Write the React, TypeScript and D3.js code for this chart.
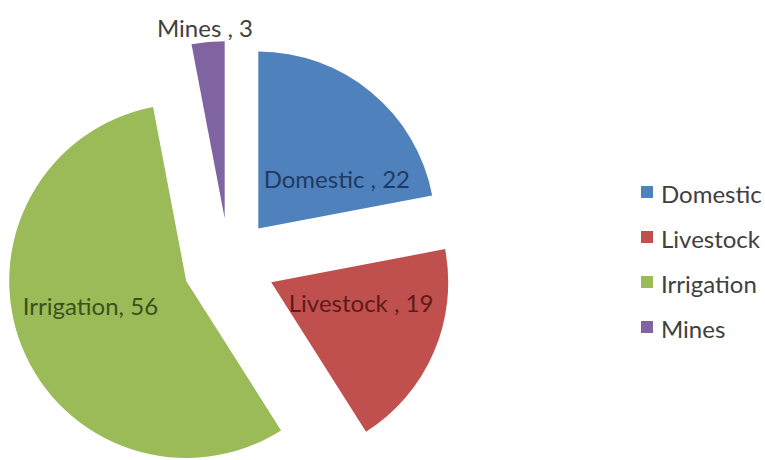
import React, { useEffect, useRef } from "react";
import * as d3 from "d3";

const categories = ["Domestic", "Livestock", "Irrigation", "Mines"];
const values = [22, 19, 56, 3];
const labelTexts = ["Domestic , 22", "Livestock , 19", "Irrigation, 56", "Mines , 3"];

const colors = ["#4F81BD", "#C0504D", "#9BBB59", "#8064A2"];
const labelColors = ["#1F3A63", "#5E1A18", "#3A5219", "#404040"];
// label placement tweaks (angle nudge in degrees, distance from slice apex)
const labelNudge = [18, -11, 7, -0.5];
const labelDist = [93, 92, 99, 192];

const W = 765;
const H = 460;
const cx = 229;
const cy = 264;
const R = 177;
const explode = 46;
const FONT = "Lato, 'Open Sans', sans-serif";
const FS = 24;

export default function App() {
  const ref = useRef<SVGSVGElement | null>(null);

  useEffect(() => {
    document.body.style.margin = "0";
    const svg = d3.select(ref.current);
    svg.selectAll("*").remove();

    const pie = d3
      .pie<number>()
      .sort(null)
      .value((d) => d)
      .startAngle(0)
      .endAngle(2 * Math.PI);
    const arcs = pie(values);
    const arc = d3.arc<d3.PieArcDatum<number>>().innerRadius(0).outerRadius(R);

    const g = svg.append("g").attr("transform", `translate(${cx},${cy})`);

    arcs.forEach((a, i) => {
      const mid = (a.startAngle + a.endAngle) / 2;
      const ox = Math.sin(mid) * explode;
      const oy = -Math.cos(mid) * explode;
      const sg = g.append("g").attr("transform", `translate(${ox},${oy})`);
      sg.append("path").attr("d", arc(a) as string).attr("fill", colors[i]);
      const la = mid + (labelNudge[i] * Math.PI) / 180;
      const lx = Math.sin(la) * labelDist[i];
      const ly = -Math.cos(la) * labelDist[i];
      sg.append("text")
        .attr("x", lx)
        .attr("y", ly)
        .attr("text-anchor", "middle")
        .attr("dominant-baseline", "central")
        .attr("font-family", FONT)
        .attr("font-size", FS)
        .attr("fill", labelColors[i])
        .text(labelTexts[i]);
    });

    const legend = svg.append("g").attr("transform", `translate(641,192)`);
    categories.forEach((c, i) => {
      const row = legend.append("g").attr("transform", `translate(0,${i * 45})`);
      row.append("rect").attr("x", 0).attr("y", -6).attr("width", 12).attr("height", 12).attr("fill", colors[i]);
      row.append("text")
        .attr("x", 20)
        .attr("y", 1)
        .attr("dominant-baseline", "central")
        .attr("font-family", FONT)
        .attr("font-size", FS)
        .attr("fill", "#404040")
        .text(c);
    });
  }, []);

  return (
    <div style={{ position: "absolute", left: 0, top: 0 }}>
      <svg ref={ref} width={W} height={H} style={{ display: "block", background: "#fff" }} />
    </div>
  );
}
